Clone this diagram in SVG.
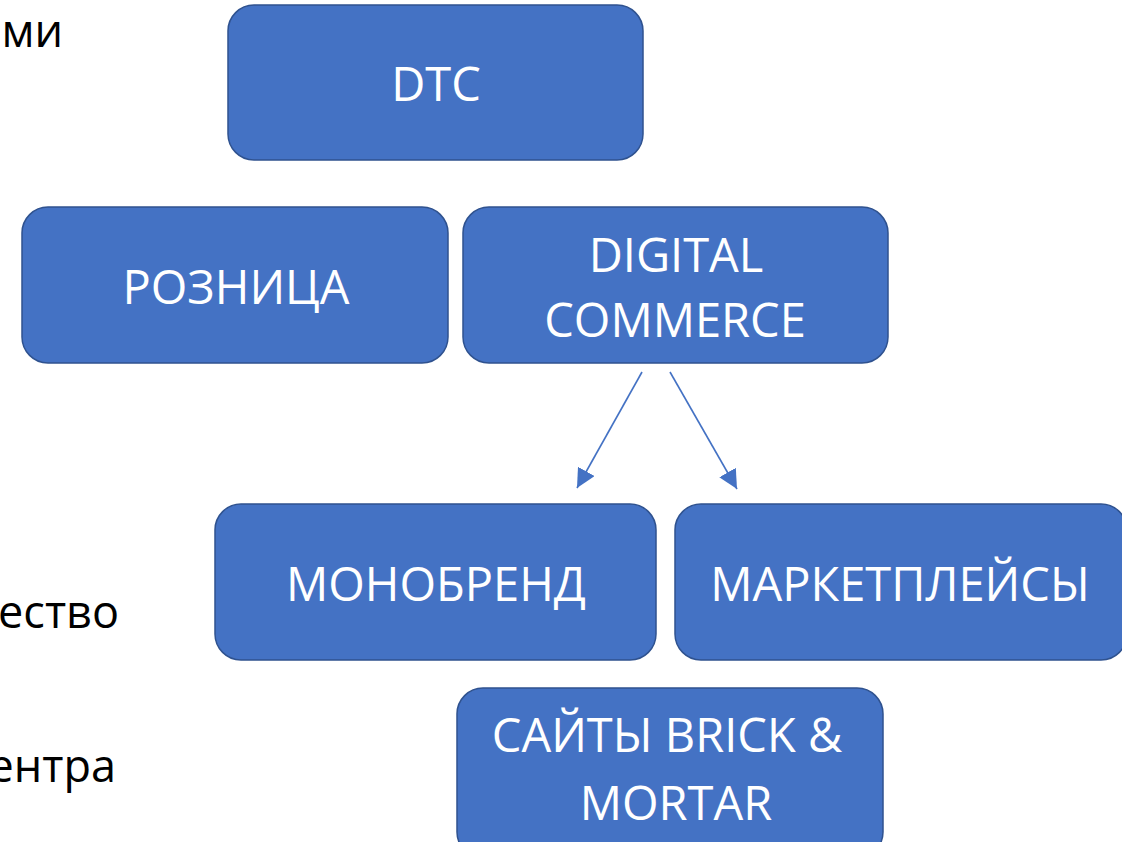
<svg xmlns="http://www.w3.org/2000/svg" width="1122" height="842" viewBox="0 0 1122 842">
<style>
.box{fill:#4472C4;stroke:#2F528F;stroke-width:1.5}
.lbl{font-family:"Open Sans","Noto Sans","Liberation Sans",sans-serif;font-size:47px;fill:#FFFFFF;text-anchor:middle}
.side{font-family:"Open Sans","Noto Sans","Liberation Sans",sans-serif;font-size:45px;fill:#000000;text-anchor:end}
.conn{stroke:#4472C4;stroke-width:1.6;fill:none}
</style>
<defs>
<marker id="arrow" viewBox="0 0 10 10" refX="10" refY="5" markerWidth="19" markerHeight="19" markerUnits="userSpaceOnUse" orient="auto">
<path d="M0,0 L10,5 L0,10 Z" fill="#4472C4"/>
</marker>
</defs>
<rect width="1122" height="842" fill="#FFFFFF"/>
<g id="side-text">
<text class="side" x="63" y="47">ми</text>
<text class="side" x="119" y="628">ество</text>
<text class="side" x="116" y="782">ентра</text>
</g>
<g id="node-dtc">
<rect class="box" x="228" y="5" width="415" height="155" rx="26"/>
<text class="lbl" x="436" y="101">DTC</text>
</g>
<g id="node-roznitsa">
<rect class="box" x="22" y="207" width="426" height="156" rx="26"/>
<text class="lbl" x="236" y="304">РОЗНИЦА</text>
</g>
<g id="node-digital">
<rect class="box" x="463" y="207" width="425" height="156" rx="26"/>
<text class="lbl" x="676" y="272">DIGITAL</text>
<text class="lbl" x="675" y="337">COMMERCE</text>
</g>
<g id="node-monobrend">
<rect class="box" x="215" y="504" width="441" height="156" rx="26"/>
<text class="lbl" x="436" y="601">МОНОБРЕНД</text>
</g>
<g id="node-marketplaces">
<rect class="box" x="675" y="504" width="452" height="156" rx="26"/>
<text class="lbl" x="900" y="601">МАРКЕТПЛЕЙСЫ</text>
</g>
<g id="node-sites">
<rect class="box" x="457" y="688" width="426" height="170" rx="26"/>
<text class="lbl" x="667" y="752">САЙТЫ BRICK &amp;</text>
<text class="lbl" x="676" y="820">MORTAR</text>
</g>
<g id="connectors">
<line class="conn" x1="642" y1="372" x2="577" y2="488" marker-end="url(#arrow)"/>
<line class="conn" x1="670" y1="372" x2="737" y2="489" marker-end="url(#arrow)"/>
</g>
</svg>
